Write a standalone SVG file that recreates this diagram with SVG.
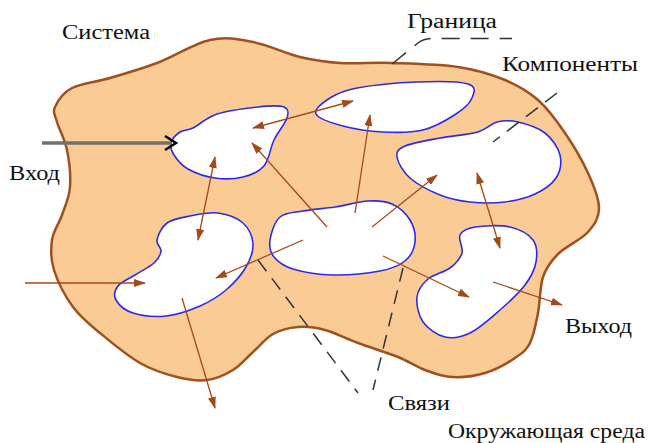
<svg xmlns="http://www.w3.org/2000/svg" width="650" height="443" viewBox="0 0 650 443">
<defs>
<style>
.sys{fill:#FBCB96;stroke:#A0501E;stroke-width:2.5}
.comp{fill:#FFFFFF;stroke:#2B2BE6;stroke-width:1.6}
.link{fill:none;stroke:#A34A18;stroke-width:1.3}
.dash{fill:none;stroke:#333333;stroke-width:1.5}
.lbl{font-family:"Liberation Serif","Times New Roman",serif;font-size:20px;fill:#111111}
</style>
<marker id="ah" viewBox="0 0 12 8" refX="11" refY="4" markerWidth="12" markerHeight="8" markerUnits="userSpaceOnUse" orient="auto-start-reverse">
<path d="M0,0 L12,4 L0,8 Z" fill="#A34A18"/>
</marker>
</defs>
<rect width="650" height="443" fill="#FFFFFF"/>
<g id="system">
<path class="sys" d="M55,107 C57.5,101.3 62.8,92.8 72,88 S95.8,82.2 110,78 S140.3,69.3 157,63 S194,43.5 210,40 S238,39.2 253,42 S285.5,53.5 300,57 S324.7,62 340,63 S372.3,62.3 392,63 S439.2,64.2 458,67 S491.7,74.5 505,80 S528,91.2 538,100 S556.7,120.8 565,133 S582.3,160.5 588,173 S599,198.2 599,208 S594.8,224.3 588,232 S565.5,246.5 558,254 S546.3,267.2 543,277 S540.2,302 538,313 S533.8,335.5 530,343 S522.5,353 515,358 S495.5,369.8 485,373 S462,377.5 452,377 S434,373.3 425,370 S409.2,361.5 398,357 S370.2,347.5 358,343 S335,332.7 325,330 S306.7,326.3 298,327 S280.5,329.8 273,334 S259.7,346 253,352 S240.7,365.3 233,370 S216.3,378.8 207,380 S188.2,379.8 177,377 S152.8,370.3 140,363 S111.2,342.3 100,333 S80.7,317.5 73,307 S57.5,281.2 54,270 S50.7,249.2 52,240 S59,223.8 62,215 S69.2,197.8 70,187 S69.2,160.8 67,150 S59,129.2 57,122 S52.5,112.7 55,107 Z"/>
</g>
<g id="compA"><path class="comp" d="M171,143 C172,139.2 176.3,134.5 180,132 S186.8,131 193,128 S206.2,117.5 217,114 S246.8,108.2 258,107 S279.2,105.2 284,107 S288.7,112.5 287,118 S277.8,132 274,140 S269.2,159.8 264,166 S251.2,175 243,177 S224.2,179.3 215,178 S194.8,172.8 188,169 S176.8,159.3 174,155 S170,146.8 171,143 Z"/></g>
<g id="compB"><path class="comp" d="M316,114 C313.8,109.3 323.2,102.3 330,98 S342.5,90.7 357,88 S398.5,82.7 417,82 S458.8,81.3 468,84 S474,93 472,98 S464.2,108.7 456,114 S435.2,127 423,130 S396.3,132.7 383,132 S354.2,129 343,126 S318.2,118.7 316,114 Z"/></g>
<g id="compC"><path class="comp" d="M397,157 C396.2,151.7 397.8,149.2 405,146 S427.8,140.3 440,138 S468.5,134.7 478,132 S490.3,123.7 497,122 S510,120.2 518,122 S538,127.5 545,133 S558.2,147.5 560,155 S560.2,171.5 556,178 S543.5,190 535,194 S515.8,200.7 505,202 S480.8,203.2 470,202 S450,199 440,195 S417.2,184.3 410,178 S397.8,162.3 397,157 Z"/></g>
<g id="compD"><path class="comp" d="M460,235 C462.2,230.7 466.7,228.3 475,227 S500.3,224.8 510,227 S528.7,234.2 533,240 S537.3,254.5 536,262 S531,277 525,285 S509.2,302 500,310 S479.2,328.5 470,333 S452.8,338.8 445,337 S427.7,328.7 423,322 S416.2,304.2 417,297 S422.5,283.8 428,279 S444.3,272.3 450,268 S460.3,258.5 462,253 S457.8,239.3 460,235 Z"/></g>
<g id="compE"><path class="comp" d="M270,240 C271,233.3 274.5,221.8 280,217 S293.8,212.7 303,211 S324.2,208.7 335,207 S358.5,201.5 368,201 S385,200.8 392,204 S406.2,213.7 410,220 S415.8,235.2 415,242 S410.8,256.2 405,261 S392,268.7 380,271 S347.5,275.3 333,275 S302.8,272 293,269 S277.8,261.8 274,257 S269,246.7 270,240 Z"/></g>
<g id="compF"><path class="comp" d="M157,240 C158,235.3 161.5,227 167,223 S181.5,217.7 190,216 S209.2,211.8 218,213 S237.2,217.8 243,223 S252.5,236.7 253,244 S250.5,259.3 246,267 S233.7,283.5 226,290 S210,301.7 200,306 S177.2,314.8 166,316 S141.3,315.7 133,313 S118.5,304.5 116,300 S114.8,290.2 118,286 S129,278.8 135,275 S149.7,267 154,263 S160.5,254.8 161,251 S156,244.7 157,240 Z"/></g>
<g id="connectors">
<line x1="42" y1="143" x2="172" y2="143" stroke="#707070" stroke-width="3.5"/>
<path d="M165,136 L176,143 L165,150" fill="none" stroke="#000000" stroke-width="2.5"/>
<line class="link" x1="25" y1="283" x2="145" y2="283" marker-end="url(#ah)"/>
<line class="link" x1="253" y1="128" x2="353" y2="101" marker-start="url(#ah)" marker-end="url(#ah)"/>
<line class="link" x1="215" y1="157" x2="198" y2="240" marker-start="url(#ah)" marker-end="url(#ah)"/>
<line class="link" x1="327" y1="227" x2="252" y2="143" marker-end="url(#ah)"/>
<line class="link" x1="355" y1="213" x2="370" y2="115" marker-end="url(#ah)"/>
<line class="link" x1="372" y1="227" x2="437" y2="175" marker-end="url(#ah)"/>
<line class="link" x1="303" y1="240" x2="216" y2="278" marker-end="url(#ah)"/>
<line class="link" x1="383" y1="256" x2="469" y2="297" marker-end="url(#ah)"/>
<line class="link" x1="477" y1="173" x2="500" y2="248" marker-start="url(#ah)" marker-end="url(#ah)"/>
<line class="link" x1="493" y1="282" x2="562" y2="305" marker-end="url(#ah)"/>
<line class="link" x1="182" y1="298" x2="215" y2="408" marker-end="url(#ah)"/>
<path class="dash" d="M392,64 L418,43 Q424,38.5 432,38.5 L512,38.5" stroke-dasharray="18,11"/>
<path class="dash" d="M557,93 L493,142" stroke-dasharray="15,9"/>
<path class="dash" d="M258,260 L358,393" stroke-dasharray="14,9"/>
<path class="dash" d="M403,268 L373,390" stroke-dasharray="14,9"/>
</g>
<g id="labels">
<text class="lbl" x="62" y="39" textLength="88" lengthAdjust="spacingAndGlyphs">Система</text>
<text class="lbl" x="407" y="28" textLength="90" lengthAdjust="spacingAndGlyphs">Граница</text>
<text class="lbl" x="502" y="71" textLength="136" lengthAdjust="spacingAndGlyphs">Компоненты</text>
<text class="lbl" x="9" y="180" textLength="51" lengthAdjust="spacingAndGlyphs">Вход</text>
<text class="lbl" x="565" y="333" textLength="67" lengthAdjust="spacingAndGlyphs">Выход</text>
<text class="lbl" x="388" y="410" textLength="62" lengthAdjust="spacingAndGlyphs">Связи</text>
<text class="lbl" x="448" y="438" textLength="197" lengthAdjust="spacingAndGlyphs">Окружающая среда</text>
</g>
</svg>
